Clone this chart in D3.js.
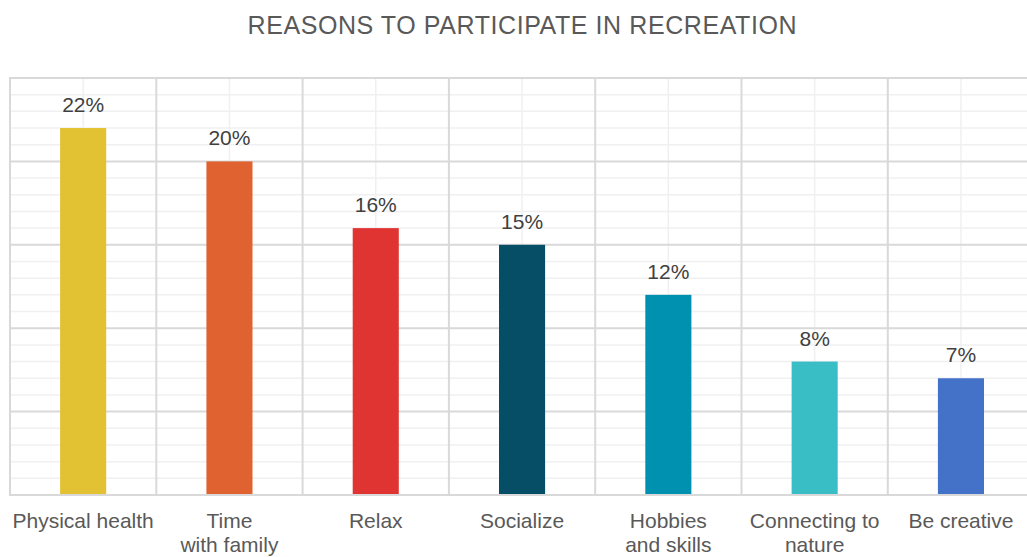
<!DOCTYPE html>
<html>
<head>
<meta charset="utf-8">
<script src="https://cdn.jsdelivr.net/npm/d3@7"></script>
<style>
  html, body { margin: 0; padding: 0; background: #fff; }
  svg { display: block; font-family: "Liberation Sans", Arial, sans-serif; }
</style>
</head>
<body>
<svg id="chart" width="1027" height="557"></svg>
<script>
// Survey results: share of respondents by main reason for recreation
const categories = ["Physical health", "Time\nwith family", "Relax", "Socialize",
                    "Hobbies\nand skills", "Connecting to\nnature", "Be creative"];
const shares = [22, 20, 16, 15, 12, 8, 7];
const barColors = ["#E2C232", "#E06231", "#E03433", "#054E66", "#0090B0", "#38BEC4", "#4472C8"];
const majorTicks = [0, 5, 10, 15, 20, 25];
const minorTicks = d3.range(0, 26, 1);
const title = "REASONS TO PARTICIPATE IN RECREATION";

const svg = d3.select("#chart");
const plotLeft = 10, bandW = 146.3, plotTop = 78, plotBottom = 495;

const x = d3.scaleBand()
  .domain(categories)
  .range([plotLeft, plotLeft + bandW * categories.length])
  .padding(0);

const y = d3.scaleLinear().domain([0, 25]).range([plotBottom, plotTop]);

const barW = x.bandwidth() * 0.315;
const xRight = x.range()[1];
const cx = d => x(d) + x.bandwidth() / 2;

// Minor grid
const grid = svg.append("g");
grid.selectAll("line.hminor").data(minorTicks.filter(d => d % 5 !== 0)).join("line")
  .attr("x1", plotLeft).attr("x2", xRight)
  .attr("y1", d => y(d)).attr("y2", d => y(d))
  .attr("stroke", "#f0f0f0").attr("stroke-width", 1.5);
grid.selectAll("line.vminor").data(categories).join("line")
  .attr("x1", cx).attr("x2", cx)
  .attr("y1", plotTop).attr("y2", plotBottom)
  .attr("stroke", "#f0f0f0").attr("stroke-width", 1.5);

// Major grid
grid.selectAll("line.hmajor").data(majorTicks).join("line")
  .attr("x1", plotLeft - 1).attr("x2", xRight)
  .attr("y1", d => y(d)).attr("y2", d => y(d))
  .attr("stroke", "#d9d9d9").attr("stroke-width", 2);
grid.selectAll("line.vmajor").data(d3.range(categories.length + 1)).join("line")
  .attr("x1", i => plotLeft + i * x.step()).attr("x2", i => plotLeft + i * x.step())
  .attr("y1", plotTop).attr("y2", plotBottom)
  .attr("stroke", "#d9d9d9").attr("stroke-width", 2);

// Bars
svg.append("g").selectAll("rect").data(shares).join("rect")
  .attr("x", (d, i) => cx(categories[i]) - barW / 2)
  .attr("width", barW)
  .attr("y", d => y(d))
  .attr("height", d => y(0) - y(d) - 1)
  .attr("fill", (d, i) => barColors[i]);

// Value labels
svg.append("g").selectAll("text").data(shares).join("text")
  .attr("x", (d, i) => cx(categories[i]))
  .attr("y", d => y(d) - 16)
  .attr("text-anchor", "middle")
  .attr("font-size", 21)
  .attr("fill", "#404040")
  .text(d => d + "%");

// Category labels (multi-line)
const cat = svg.append("g").selectAll("text").data(categories).join("text")
  .attr("x", cx)
  .attr("y", 528)
  .attr("text-anchor", "middle")
  .attr("font-size", 21)
  .attr("fill", "#595959");
cat.each(function(d) {
  const t = d3.select(this);
  d.split("\n").forEach((line, k) => {
    t.append("tspan").attr("x", cx(d)).attr("dy", k === 0 ? 0 : 24).text(line);
  });
});

// Title
svg.append("text")
  .attr("x", 522).attr("y", 34)
  .attr("text-anchor", "middle")
  .attr("font-size", 25)
  .attr("fill", "#595959")
  .attr("textLength", 549)
  .attr("lengthAdjust", "spacing")
  .text(title);
</script>
</body>
</html>
